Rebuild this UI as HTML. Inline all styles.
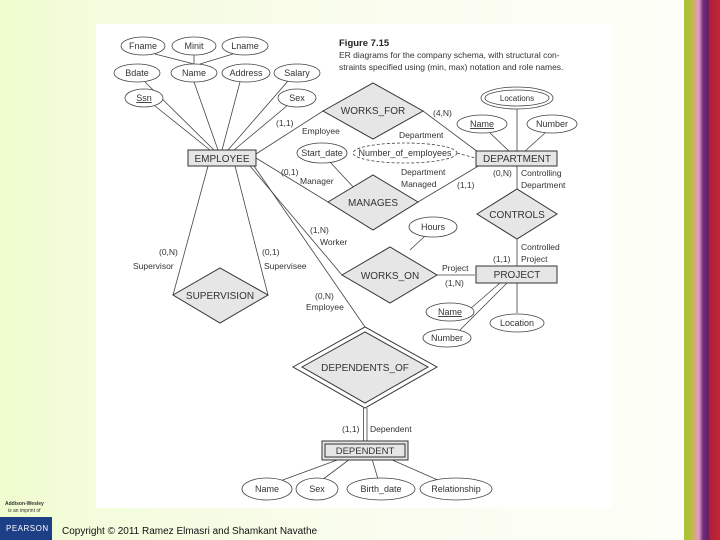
<!DOCTYPE html>
<html><head><meta charset="utf-8"><style>
html,body{margin:0;padding:0;width:720px;height:540px;overflow:hidden;}
body{background:linear-gradient(90deg,#effccd 0px,#f3fcdc 90px,#fbfdf0 400px,#fdfef7 680px);position:relative;font-family:"Liberation Sans",sans-serif;}
.strip{position:absolute;top:0;right:0;width:36px;height:540px;background:linear-gradient(90deg,#a9c23a 0,#b7c03f 8px,#e3a08a 11px,#d9a0c8 15px,#7a2a7a 19px,#5a2070 24px,#b0203a 26px,#c42430 36px);}
.panel{position:absolute;left:96px;top:24px;width:516px;height:484px;background:#fff;}
svg{position:absolute;left:0;top:0;}
text{font-family:"Liberation Sans",sans-serif;fill:#333;}
</style></head><body>
<div class="panel"></div>
<div class="strip"></div>
<svg width="720" height="540" viewBox="0 0 720 540">
<g stroke="#444" stroke-width="0.8" fill="none">
<!-- employee attribute lines -->
<line x1="155" y1="54" x2="194" y2="64"/><line x1="194" y1="55" x2="194" y2="64"/><line x1="233" y1="54" x2="200" y2="64"/>
<line x1="145" y1="82" x2="214" y2="150"/><line x1="194" y1="82" x2="218" y2="150"/><line x1="240" y1="82" x2="222" y2="150"/><line x1="288" y1="81" x2="228" y2="150"/>
<line x1="155" y1="106" x2="210" y2="150"/><line x1="288" y1="105" x2="234" y2="150"/>
<!-- relationships -->
<line x1="256" y1="154" x2="323" y2="111"/><line x1="423" y1="111" x2="478" y2="152"/>
<line x1="256" y1="158" x2="328" y2="202"/><line x1="418" y1="202" x2="480" y2="165"/>
<line x1="330" y1="162" x2="356" y2="190"/>
<line x1="457" y1="153" x2="475" y2="158" stroke-dasharray="3,2"/>
<line x1="517" y1="109" x2="517" y2="152"/><line x1="490" y1="133" x2="510" y2="152"/><line x1="545" y1="133" x2="524" y2="152"/>
<line x1="517" y1="166" x2="517" y2="189"/><line x1="517" y1="239" x2="517" y2="266"/>
<line x1="208" y1="166" x2="173" y2="295"/><line x1="235" y1="166" x2="268" y2="295"/>
<line x1="250" y1="166" x2="342" y2="275"/><line x1="254" y1="166" x2="365" y2="327"/>
<line x1="425" y1="236" x2="410" y2="250"/>
<line x1="437" y1="275" x2="475" y2="275"/>
<line x1="500" y1="283" x2="470" y2="309"/><line x1="507" y1="283" x2="460" y2="330"/><line x1="517" y1="283" x2="517" y2="313"/>
<line x1="363.5" y1="408" x2="363.5" y2="441"/><line x1="367" y1="408" x2="367" y2="441"/>
<line x1="340" y1="459" x2="280" y2="481"/><line x1="350" y1="459" x2="322" y2="480"/><line x1="372" y1="459" x2="378" y2="479"/><line x1="390" y1="459" x2="440" y2="481"/>
</g>
<g stroke="#444" stroke-width="0.8" fill="#fff">
<ellipse cx="143" cy="46" rx="22" ry="9"/><ellipse cx="194" cy="46" rx="22" ry="9"/><ellipse cx="245" cy="46" rx="23" ry="9"/>
<ellipse cx="137" cy="73" rx="23" ry="9"/><ellipse cx="194" cy="73" rx="23" ry="9"/><ellipse cx="246" cy="73" rx="24" ry="9"/><ellipse cx="297" cy="73" rx="23" ry="9"/>
<ellipse cx="144" cy="98" rx="19" ry="9"/><ellipse cx="297" cy="98" rx="19" ry="9"/>
<ellipse cx="517" cy="98" rx="36" ry="11"/><ellipse cx="517" cy="98" rx="32" ry="8"/>
<ellipse cx="482" cy="124" rx="25" ry="9"/><ellipse cx="552" cy="124" rx="25" ry="9"/>
<ellipse cx="322" cy="153" rx="25" ry="10"/><ellipse cx="405" cy="153" rx="52" ry="10" stroke-dasharray="3,2"/>
<ellipse cx="433" cy="227" rx="24" ry="10"/>
<ellipse cx="450" cy="312" rx="24" ry="9"/><ellipse cx="517" cy="323" rx="27" ry="9"/><ellipse cx="447" cy="338" rx="24" ry="9"/>
<ellipse cx="267" cy="489" rx="25" ry="11"/><ellipse cx="317" cy="489" rx="21" ry="11"/><ellipse cx="381" cy="489" rx="34" ry="11"/><ellipse cx="456" cy="489" rx="36" ry="11"/>
</g>
<g stroke="#333" stroke-width="1" fill="#e6e6e6">
<rect x="188" y="150" width="68" height="16"/>
<rect x="476" y="151" width="81" height="15"/>
<rect x="476" y="266" width="81" height="17"/>
<rect x="322" y="441" width="86" height="19"/>
<rect x="325" y="444" width="80" height="13"/>
<polygon points="323,111 373,83 423,111 373,139"/>
<polygon points="328,202 373,175 418,202 373,230"/>
<polygon points="477,214 517,189 557,214 517,239"/>
<polygon points="342,275 390,247 437,275 390,303"/>
<polygon points="173,295 220,268 268,295 220,323"/>
<polygon points="293,367 365,327 437,367 365,408" fill="#fff"/>
<polygon points="302,367 365,332 428,367 365,403"/>
</g>
<g font-size="9" text-anchor="middle">
<text x="143" y="49">Fname</text><text x="194" y="49">Minit</text><text x="245" y="49">Lname</text>
<text x="137" y="76">Bdate</text><text x="194" y="76">Name</text><text x="246" y="76">Address</text><text x="297" y="76">Salary</text>
<text x="144" y="101" text-decoration="underline">Ssn</text><text x="297" y="101">Sex</text>
<text x="517" y="101" font-size="8">Locations</text>
<text x="482" y="127" text-decoration="underline">Name</text><text x="552" y="127">Number</text>
<text x="322" y="156">Start_date</text><text x="405" y="156">Number_of_employees</text>
<text x="433" y="230">Hours</text>
<text x="450" y="315" text-decoration="underline">Name</text><text x="517" y="326">Location</text><text x="447" y="341">Number</text>
<text x="267" y="492">Name</text><text x="317" y="492">Sex</text><text x="381" y="492">Birth_date</text><text x="456" y="492">Relationship</text>
<text x="222" y="162" font-size="10">EMPLOYEE</text>
<text x="517" y="162" font-size="10">DEPARTMENT</text>
<text x="517" y="278" font-size="10">PROJECT</text>
<text x="365" y="454" font-size="9.5">DEPENDENT</text>
<text x="373" y="114" font-size="10">WORKS_FOR</text>
<text x="373" y="206" font-size="10">MANAGES</text>
<text x="517" y="218" font-size="10">CONTROLS</text>
<text x="390" y="279" font-size="10">WORKS_ON</text>
<text x="220" y="299" font-size="10">SUPERVISION</text>
<text x="365" y="371" font-size="10">DEPENDENTS_OF</text>
</g>
<g font-size="8.5">
<text x="276" y="126">(1,1)</text><text x="302" y="134">Employee</text>
<text x="433" y="116">(4,N)</text><text x="399" y="138">Department</text>
<text x="281" y="175">(0,1)</text><text x="300" y="184">Manager</text>
<text x="401" y="175">Department</text><text x="401" y="187">Managed</text><text x="457" y="188">(1,1)</text>
<text x="493" y="176">(0,N)</text><text x="521" y="176">Controlling</text><text x="521" y="188">Department</text>
<text x="521" y="250">Controlled</text><text x="521" y="262">Project</text><text x="493" y="262">(1,1)</text>
<text x="442" y="271">Project</text><text x="445" y="286">(1,N)</text>
<text x="310" y="233">(1,N)</text><text x="320" y="245">Worker</text>
<text x="159" y="255">(0,N)</text><text x="133" y="269">Supervisor</text>
<text x="262" y="255">(0,1)</text><text x="264" y="269">Supervisee</text>
<text x="315" y="299">(0,N)</text><text x="306" y="310">Employee</text>
<text x="342" y="432">(1,1)</text><text x="370" y="432">Dependent</text>
</g>
<text x="339" y="46" font-size="9.5" font-weight="bold" style="fill:#222">Figure 7.15</text>
<text x="339" y="58" font-size="8.5">ER diagrams for the company schema, with structural con-</text>
<text x="339" y="70" font-size="8.5">straints specified using (min, max) notation and role names.</text>
<text x="5" y="505" font-size="5" font-weight="bold">Addison-Wesley</text>
<text x="8" y="512" font-size="5">is an imprint of</text>
<rect x="0" y="517" width="52" height="23" fill="#1d3f86"/>
<text x="6" y="531" font-size="8" style="fill:#fff" letter-spacing="0.5">PEARSON</text>
<text x="62" y="534" font-size="10" style="fill:#111">Copyright © 2011 Ramez Elmasri and Shamkant Navathe</text>
</svg>
</body></html>
